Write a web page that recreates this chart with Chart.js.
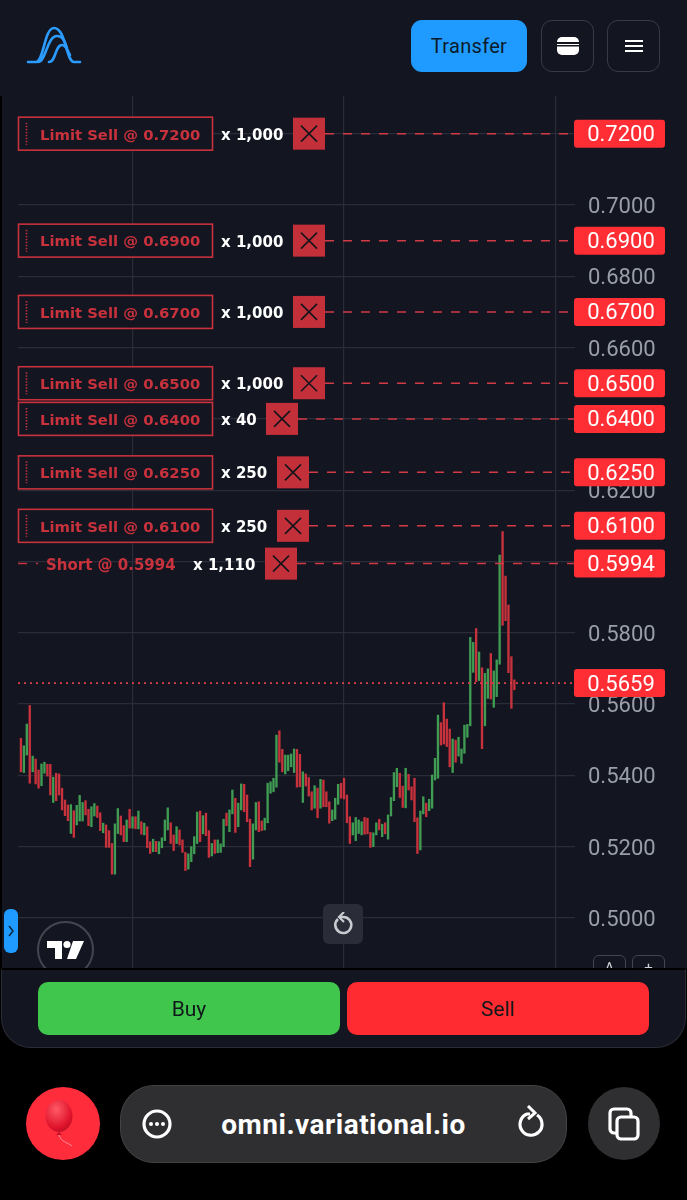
<!DOCTYPE html>
<html>
<head>
<meta charset="utf-8">
<script src="https://cdn.jsdelivr.net/npm/chart.js@4"></script>
<style>
  html, body { margin: 0; padding: 0; background: #000; }
  #page { position: relative; width: 687px; height: 1200px; overflow: hidden; background: #000; font-family: Roboto, sans-serif; }
  #header { position: absolute; left: 0; top: 0; width: 687px; height: 96px; background: #131521; }
  #chartBox { position: absolute; left: 0; top: 96px; width: 687px; height: 872px; background: #131521; overflow: hidden; }
  #chartBox canvas { position: absolute; left: 0; top: 0; }
  #leftEdge { position: absolute; left: 0; top: 96px; width: 2px; height: 872px; background: #000; }
  #footer { position: absolute; left: 1px; top: 969px; width: 685px; height: 79px; background: #131521; border-radius: 0 0 30px 30px; border: 1px solid #2a2c36; border-top: 1px solid #000; box-sizing: border-box; }
  .btn { position: absolute; box-sizing: border-box; display: flex; align-items: center; justify-content: center; }
  #transfer { left: 411px; top: 20px; width: 116px; height: 52px; background: #1f9bff; border-radius: 11px; color: #0c1a2a; font-size: 20px; letter-spacing: .3px; }
  .iconBtn { top: 20px; width: 53px; height: 52px; border: 1.5px solid #383b46; border-radius: 11px; }
  #buy, #sell { top: 982px; width: 302px; height: 53px; border-radius: 10px; font-size: 21px; color: #10181a; }
  #buy { left: 38px; background: #41c64d; }
  #sell { left: 347px; background: #ff2b30; }
  #reset { left: 323px; top: 904px; width: 40px; height: 40px; background: #2a2d38; border-radius: 6px; }
  #sideTab { left: 4px; top: 909px; width: 14px; height: 44px; background: #1f9bff; border-radius: 6px; }
  #tvLogo { left: 37px; top: 921px; width: 57px; height: 57px; border: 2px solid #44464f; border-radius: 50%; }
  #clipBottom { position: absolute; left: 0; top: 0; width: 687px; height: 968px; overflow: hidden; pointer-events: none; }
  .zoomBtn { top: 955px; width: 33px; height: 33px; border: 1.5px solid #44464f; border-radius: 6px; color: #cfd1d6; font-size: 15px; align-items: flex-start; padding-top: 3px; }
  #balloon { left: 26px; top: 1087px; width: 74px; height: 73px; background: #ff2d3c; border-radius: 50%; }
  #urlBar { left: 120px; top: 1085px; width: 447px; height: 78px; background: #2f2f31; border: 1.5px solid #434345; border-radius: 34px; }
  #urlText { color: #fff; font-size: 28px; font-weight: 700; font-family: Roboto, sans-serif; letter-spacing: .5px; }
  #tabs { left: 588px; top: 1087px; width: 72px; height: 73px; background: #2f2f31; border-radius: 50%; }
</style>
</head>
<body>
<div id="page">
  <div id="header">
    <svg style="position:absolute;left:24px;top:24px" width="60" height="42" fill="none" stroke="#2b9bff" stroke-width="2.6" stroke-linecap="round">
      <path d="M4 38 H12 C20 38 20 4 30 4 C42 4 42 38 50 38 H56"/>
      <path d="M14 38 C22 38 23 12 33 12 C39 12 41 18 43 24"/>
      <path d="M25 38 C32 38 31 21 38 21 C42 21 44 27 46 31"/>
    </svg>
    <div class="btn" id="transfer">Transfer</div>
    <div class="btn iconBtn" style="left:541px">
      <svg width="24" height="20"><rect x="1" y="1" width="22" height="18" rx="5" fill="#fff"/><rect x="1" y="6" width="22" height="2" fill="#131521"/><rect x="1" y="9" width="22" height="1.5" fill="#131521"/></svg>
    </div>
    <div class="btn iconBtn" style="left:607px">
      <svg width="18" height="14" stroke="#fff" stroke-width="2"><path d="M0 2 H18 M0 7 H18 M0 12 H18"/></svg>
    </div>
  </div>

  <div id="chartBox"><canvas id="priceChart" width="687" height="872"></canvas></div>
  <div id="leftEdge"></div>

  <div id="clipBottom">
    <div class="btn" id="sideTab"><svg width="8" height="14" fill="none" stroke="#0c2036" stroke-width="1.4"><path d="M2 2 L6 7 L2 12"/></svg></div>
    <div class="btn" id="tvLogo">
      <svg width="38" height="20" fill="#fff"><path d="M0 1 H15 V19 H8 V8 H0 Z"/><circle cx="20" cy="4.5" r="3.6"/><path d="M26 1 H37 L29 19 H20 Z"/></svg>
    </div>
    <div class="btn" id="reset">
      <svg width="22" height="24" fill="none" stroke="#c9cbd0" stroke-width="2.6"><path d="M6 7 A8 8 0 1 0 11 5 H8"/><path d="M12 0 L7 5 L12 10" stroke-width="2.2"/></svg>
    </div>
    <div class="btn zoomBtn" style="left:593px">A</div>
    <div class="btn zoomBtn" style="left:632px">+</div>
  </div>

  <div id="footer"></div>
  <div class="btn" id="buy">Buy</div>
  <div class="btn" id="sell">Sell</div>

  <div class="btn" id="balloon">
    <svg width="40" height="50" style="margin-left:0;margin-top:2px">
      <defs><radialGradient id="ballGrad" cx=".4" cy=".3" r=".8"><stop offset="0" stop-color="#ff5a66"/><stop offset=".7" stop-color="#e0142c"/><stop offset="1" stop-color="#b50c22"/></radialGradient></defs>
      <ellipse cx="16" cy="16" rx="13.5" ry="16" fill="url(#ballGrad)"/>
      <path d="M16 32 L13 35 H19 Z" fill="#c50f26"/>
      <path d="M16 35 C18 42 24 42 29 46" fill="none" stroke="#ff8b93" stroke-width="1"/>
    </svg>
  </div>
  <div class="btn" id="urlBar">
    <svg style="position:absolute;left:20px;top:22px" width="32" height="32"><circle cx="16" cy="16" r="13" fill="none" stroke="#fff" stroke-width="3.2"/><circle cx="10" cy="16" r="2" fill="#fff"/><circle cx="16" cy="16" r="2" fill="#fff"/><circle cx="22" cy="16" r="2" fill="#fff"/></svg>
    <span id="urlText">omni.variational.io</span>
    <svg style="position:absolute;left:394px;top:19px" width="30" height="36" fill="none" stroke="#fff" stroke-width="3.2"><path d="M22 10 A11 11 0 1 1 12 9 H15"/><path d="M13 1 L20 8 L13 14" stroke-width="3"/></svg>
  </div>
  <div class="btn" id="tabs">
    <svg width="34" height="34" fill="none" stroke="#fff" stroke-width="3.2"><rect x="10" y="10" width="21" height="22" rx="4"/><path d="M10 26 H7 A4 4 0 0 1 3 22 V6 A4 4 0 0 1 7 2 H20 A4 4 0 0 1 24 6 V10"/></svg>
  </div>
</div>

<script>
// candle ranges, oldest first
const candleHigh = [
  0.5504, 0.5483, 0.5544, 0.5596, 0.5454, 0.5446, 0.5415, 0.5432, 0.5437, 0.5431,
  0.5431, 0.5395, 0.5406, 0.5404, 0.5364, 0.5331, 0.5317, 0.5318, 0.5301, 0.5316,
  0.5344, 0.5324, 0.5329, 0.5305, 0.5312, 0.5321, 0.5314, 0.5295, 0.5266, 0.5261,
  0.5245, 0.5209, 0.5264, 0.5307, 0.5286, 0.5259, 0.5275, 0.5305, 0.5284, 0.5284,
  0.5300, 0.5270, 0.5266, 0.5256, 0.5214, 0.5221, 0.5215, 0.5214, 0.5225, 0.5275,
  0.5309, 0.5267, 0.5233, 0.5256, 0.5247, 0.5219, 0.5184, 0.5180, 0.5200, 0.5228,
  0.5297, 0.5300, 0.5287, 0.5294, 0.5245, 0.5209, 0.5219, 0.5219, 0.5208, 0.5277,
  0.5294, 0.5303, 0.5359, 0.5336, 0.5322, 0.5376, 0.5375, 0.5345, 0.5277, 0.5264,
  0.5324, 0.5326, 0.5272, 0.5280, 0.5378, 0.5382, 0.5392, 0.5513, 0.5525, 0.5473,
  0.5457, 0.5457, 0.5460, 0.5474, 0.5473, 0.5459, 0.5410, 0.5404, 0.5394, 0.5354,
  0.5371, 0.5364, 0.5389, 0.5387, 0.5354, 0.5326, 0.5303, 0.5336, 0.5375, 0.5378,
  0.5392, 0.5345, 0.5284, 0.5267, 0.5282, 0.5275, 0.5270, 0.5282, 0.5280, 0.5240,
  0.5239, 0.5267, 0.5277, 0.5263, 0.5267, 0.5289, 0.5338, 0.5408, 0.5420, 0.5406,
  0.5370, 0.5420, 0.5403, 0.5368, 0.5392, 0.5281, 0.5300, 0.5340, 0.5322, 0.5333,
  0.5401, 0.5448, 0.5569, 0.5548, 0.5604, 0.5558, 0.5530, 0.5502, 0.5499, 0.5507,
  0.5474, 0.5541, 0.5543, 0.5787, 0.5773, 0.5812, 0.5746, 0.5702, 0.5686, 0.5699,
  0.5742, 0.5693, 0.5724, 0.6018, 0.6084, 0.5959, 0.5878, 0.5733, 0.5668
];
const candleLow = [
  0.5410, 0.5408, 0.5457, 0.5378, 0.5410, 0.5376, 0.5364, 0.5371, 0.5406, 0.5398,
  0.5345, 0.5324, 0.5329, 0.5345, 0.5303, 0.5287, 0.5273, 0.5237, 0.5226, 0.5261,
  0.5272, 0.5272, 0.5289, 0.5259, 0.5256, 0.5286, 0.5282, 0.5245, 0.5239, 0.5198,
  0.5198, 0.5123, 0.5123, 0.5237, 0.5233, 0.5214, 0.5214, 0.5252, 0.5252, 0.5250,
  0.5250, 0.5235, 0.5233, 0.5197, 0.5181, 0.5186, 0.5186, 0.5180, 0.5197, 0.5217,
  0.5247, 0.5209, 0.5189, 0.5209, 0.5205, 0.5184, 0.5133, 0.5137, 0.5158, 0.5180,
  0.5209, 0.5214, 0.5236, 0.5231, 0.5170, 0.5174, 0.5181, 0.5183, 0.5184, 0.5200,
  0.5259, 0.5242, 0.5292, 0.5240, 0.5256, 0.5303, 0.5298, 0.5270, 0.5144, 0.5165,
  0.5247, 0.5242, 0.5245, 0.5247, 0.5267, 0.5350, 0.5354, 0.5367, 0.5437, 0.5410,
  0.5404, 0.5413, 0.5424, 0.5408, 0.5367, 0.5368, 0.5324, 0.5370, 0.5342, 0.5303,
  0.5308, 0.5281, 0.5308, 0.5312, 0.5312, 0.5266, 0.5273, 0.5277, 0.5319, 0.5336,
  0.5334, 0.5267, 0.5209, 0.5233, 0.5217, 0.5237, 0.5233, 0.5235, 0.5236, 0.5198,
  0.5200, 0.5233, 0.5247, 0.5228, 0.5236, 0.5221, 0.5286, 0.5329, 0.5368, 0.5338,
  0.5310, 0.5309, 0.5359, 0.5331, 0.5270, 0.5181, 0.5191, 0.5292, 0.5284, 0.5301,
  0.5308, 0.5387, 0.5392, 0.5485, 0.5488, 0.5481, 0.5424, 0.5408, 0.5437, 0.5454,
  0.5434, 0.5462, 0.5507, 0.5539, 0.5689, 0.5663, 0.5666, 0.5475, 0.5539, 0.5616,
  0.5614, 0.5591, 0.5621, 0.5712, 0.5821, 0.5834, 0.5688, 0.5588, 0.5640
];
// r = down candle, g = up candle
const candleSide = (
  'rggrgrrggr' + 'rgrrrrrgrg' + 'ggrrggrrgr' + 'rrggrrgrgr' + 'grgrrgrggg' +
  'grrgrrrggg' + 'grgrrgrggg' + 'rggrggrrrg' + 'grrgggggrr' + 'ggggrrgrrr' +
  'grgrrrgggr' + 'rrrggggrrr' + 'ggrgrggggr' + 'rgrrrrggrg' + 'gggrrrrgrg' +
  'gggggrgrgg' + 'rgggrrrrr'
).split('');

const priceTicks = [0.50, 0.52, 0.54, 0.56, 0.58, 0.60, 0.62, 0.64, 0.66, 0.68, 0.70, 0.72];
const timeTicks = [38, 110, 182];

const orderLabels = [
  'Limit Sell @ 0.7200', 'Limit Sell @ 0.6900', 'Limit Sell @ 0.6700', 'Limit Sell @ 0.6500',
  'Limit Sell @ 0.6400', 'Limit Sell @ 0.6250', 'Limit Sell @ 0.6100', 'Short @ 0.5994'
];
const orderPrices = [0.72, 0.69, 0.67, 0.65, 0.64, 0.625, 0.61, 0.5994];
const orderSizes = ['x 1,000', 'x 1,000', 'x 1,000', 'x 1,000', 'x 40', 'x 250', 'x 250', 'x 1,110'];
const lastPrice = 0.5659;

const RED = '#c8323c';
const GREEN = '#3f9c52';
const TAG_RED = '#ff2d34';
const BG = '#131521';

function drawPriceTag(ctx, y, price) {
  ctx.fillStyle = TAG_RED;
  ctx.beginPath();
  ctx.roundRect(574, y - 14, 91, 28, 3);
  ctx.fill();
  ctx.fillStyle = '#fff';
  ctx.font = '22px Roboto';
  ctx.textAlign = 'center';
  ctx.textBaseline = 'middle';
  ctx.fillText(price.toFixed(4), 621, y + 2);
}

function drawCloseBox(ctx, x, y) {
  ctx.fillStyle = '#c4303a';
  ctx.fillRect(x, y - 16, 32, 32);
  ctx.strokeStyle = '#14151c';
  ctx.lineWidth = 1.6;
  ctx.setLineDash([]);
  ctx.beginPath();
  ctx.moveTo(x + 8, y - 8);
  ctx.lineTo(x + 24, y + 8);
  ctx.moveTo(x + 24, y - 8);
  ctx.lineTo(x + 8, y + 8);
  ctx.stroke();
}

// order lines and price tags sit on top of the axis, like the trading widget does it
const orderLinesPlugin = {
  id: 'orderLines',
  afterDraw(chart) {
    const ctx = chart.ctx;
    const yScale = chart.scales.y;
    ctx.save();

    const lastY = yScale.getPixelForValue(lastPrice);
    ctx.strokeStyle = '#d8404c';
    ctx.lineWidth = 1.8;
    ctx.setLineDash([2, 4]);
    ctx.beginPath();
    ctx.moveTo(18, lastY);
    ctx.lineTo(574, lastY);
    ctx.stroke();
    drawPriceTag(ctx, lastY, lastPrice);

    orderPrices.forEach((price, i) => {
      const y = yScale.getPixelForValue(price);
      const isShort = orderLabels[i].startsWith('Short');
      ctx.textAlign = 'left';
      ctx.textBaseline = 'middle';

      if (isShort) {
        ctx.strokeStyle = RED;
        ctx.lineWidth = 1.5;
        ctx.setLineDash([9, 9]);
        ctx.beginPath();
        ctx.moveTo(18, y);
        ctx.lineTo(38, y);
        ctx.stroke();
      } else {
        ctx.setLineDash([]);
        ctx.fillStyle = BG;
        ctx.fillRect(18, y - 17, 195, 34);
        ctx.strokeStyle = RED;
        ctx.lineWidth = 1.6;
        ctx.strokeRect(18.5, y - 16.5, 194, 33);
        // grip dots
        ctx.setLineDash([1.5, 1.5]);
        ctx.beginPath();
        ctx.moveTo(26.5, y - 11);
        ctx.lineTo(26.5, y + 11);
        ctx.stroke();
      }

      ctx.font = (isShort ? 'bold 15px' : 'bold 14.8px') + ' "DejaVu Sans"';
      ctx.fillStyle = RED;
      ctx.fillText(orderLabels[i], isShort ? 46 : 40, y + 2);

      ctx.font = 'bold 15px "DejaVu Sans"';
      const sizeX = isShort ? 193 : 221;
      ctx.fillStyle = '#fff';
      ctx.fillText(orderSizes[i], sizeX, y + 2);
      const boxX = Math.round(sizeX + ctx.measureText(orderSizes[i]).width + 9.5);
      drawCloseBox(ctx, boxX, y);

      ctx.strokeStyle = '#d23a46';
      ctx.lineWidth = 1.5;
      ctx.setLineDash([9, 9]);
      ctx.beginPath();
      ctx.moveTo(boxX + 32, y);
      ctx.lineTo(574, y);
      ctx.stroke();

      drawPriceTag(ctx, y, price);
    });
    ctx.restore();
  }
};

new Chart(document.getElementById('priceChart').getContext('2d'), {
  type: 'bar',
  data: {
    datasets: [{
      data: candleHigh.map((high, i) => ({ x: i, y: [candleLow[i], high] })),
      backgroundColor: candleSide.map(s => (s === 'g' ? GREEN : RED)),
      barThickness: 1.7,
      borderSkipped: false
    }]
  },
  options: {
    responsive: false,
    animation: false,
    devicePixelRatio: 1,
    layout: { padding: { left: 18, right: 0, top: 0, bottom: 0 } },
    plugins: { legend: { display: false }, tooltip: { enabled: false } },
    scales: {
      x: {
        type: 'linear',
        min: -1,
        max: 188.66,
        offset: false,
        afterBuildTicks(axis) { axis.ticks = timeTicks.map(value => ({ value })); },
        afterFit(axis) { axis.height = 0; axis.paddingLeft = 0; axis.paddingRight = 0; },
        grid: { color: '#2a2d39', lineWidth: 1.2, offset: false, drawTicks: false },
        border: { display: false },
        ticks: { display: false }
      },
      y: {
        position: 'right',
        min: 0.48597,
        max: 0.73057,
        afterBuildTicks(axis) { axis.ticks = priceTicks.map(value => ({ value })); },
        // the tick text may hang over the plot edges, no room kept for it
        afterFit(axis) { axis.width = 112; axis.paddingTop = 0; axis.paddingBottom = 0; },
        grid: { color: '#2a2d39', lineWidth: 1.2, drawTicks: false },
        border: { display: false },
        ticks: {
          color: '#9a9ea8',
          padding: 13,
          labelOffset: 2.5,
          font: { family: 'Roboto', size: 22 },
          callback: value => value.toFixed(4)
        }
      }
    }
  },
  plugins: [orderLinesPlugin]
});
</script>
</body>
</html>
